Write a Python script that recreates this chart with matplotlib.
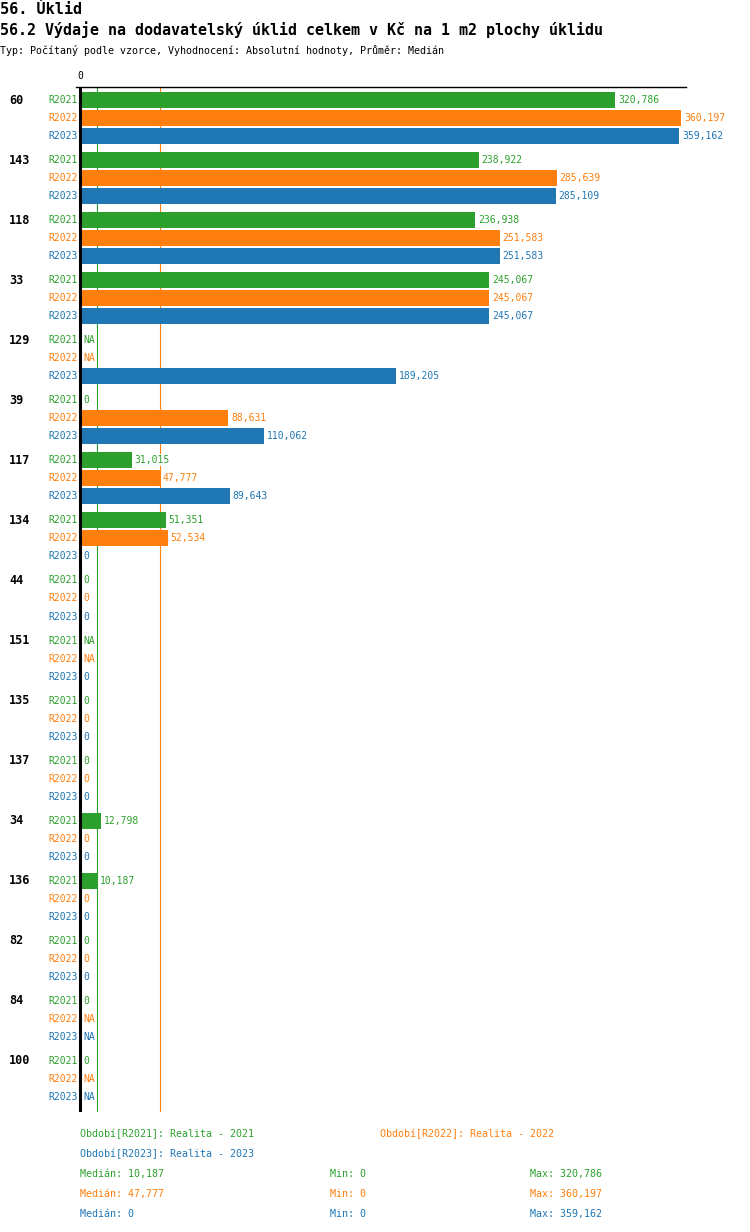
import matplotlib
matplotlib.use("Agg")
import matplotlib.pyplot as plt
import numpy as np

groups = ["60", "143", "118", "33", "129", "39", "117", "134", "44", "151",
          "135", "137", "34", "136", "82", "84", "100"]
series = ["R2021", "R2022", "R2023"]
NA = None
r2021 = [320786, 238922, 236938, 245067, NA, 0, 31015, 51351, 0, NA, 0, 0, 12798, 10187, 0, 0, 0]
r2022 = [360197, 285639, 251583, 245067, NA, 88631, 47777, 52534, 0, NA, 0, 0, 0, 0, 0, NA, NA]
r2023 = [359162, 285109, 251583, 245067, 189205, 110062, 89643, 0, 0, 0, 0, 0, 0, 0, 0, NA, NA]
values = [r2021, r2022, r2023]
colors = ["#2ca02c", "#ff7f0e", "#1f77b4"]
legend_texts = ["Období[R2021]: Realita - 2021", "Období[R2022]: Realita - 2022",
                "Období[R2023]: Realita - 2023"]
medians = [10187, 47777, 0]
mins = [0, 0, 0]
maxs = [320786, 360197, 359162]

W, H = 750, 1232
fig = plt.figure(figsize=(W / 100, H / 100), dpi=100)
plt.rcParams['font.family'] = ['DejaVu Sans Mono']

ax_left, ax_right, ax_top, ax_bottom = 76, 686, 87, 1112
ax = fig.add_axes([ax_left / W, 1 - ax_bottom / H, (ax_right - ax_left) / W, (ax_bottom - ax_top) / H])

zero_px = 80
units_per_px = 360197 / (681 - zero_px)
ax.set_xlim(-(zero_px - ax_left) * units_per_px, (ax_right - zero_px) * units_per_px)
ax.set_ylim(1011, -13)
for s in ["left", "right", "bottom"]:
    ax.spines[s].set_visible(False)
ax.spines["top"].set_linewidth(1)
ax.spines["top"].set_color("black")
ax.set_xticks([])
ax.set_yticks([])

def xfrac(px):
    return (px - ax_left) / (ax_right - ax_left)

from matplotlib.transforms import blended_transform_factory
tr = blended_transform_factory(ax.transAxes, ax.transData)

for j, (vals, c) in enumerate(zip(values, colors)):
    ypos = [i * 60 + j * 18 for i in range(len(groups))]
    for i, v in enumerate(vals):
        y = ypos[i]
        ax.text(xfrac(78), y, series[j], color=c, fontsize=7, ha="right", va="center",
                transform=tr, clip_on=False, zorder=5)
        if v is None:
            lbl, xe = "NA", 0
        else:
            lbl, xe = f"{v:,}", v
            if v > 0:
                ax.barh(y, v, height=16, color=c, zorder=3)
        ax.text(xe + 3 * units_per_px, y, lbl, color=c, fontsize=7, ha="left", va="center",
                zorder=4, bbox=dict(facecolor="white", edgecolor="none", pad=0.8))

for i, g in enumerate(groups):
    ax.text(xfrac(9), i * 60, g, fontsize=8.5, fontweight="bold", ha="left", va="center",
            transform=tr, clip_on=False)

for m, c in zip(medians, colors):
    ax.axvline(m, color=c, lw=0.8, zorder=1)
ax.axvline(0, color="black", lw=2.2, zorder=6)

ax.text(0, 1.006, "0", transform=blended_transform_factory(ax.transData, ax.transAxes),
        fontsize=7, ha="center", va="bottom")

def ftext(x, y, s, **kw):
    fig.text(x / W, 1 - y / H, s, **kw)

ftext(0, 9, "56. Úklid", fontsize=11, fontweight="bold", va="center")
ftext(0, 30, "56.2 Výdaje na dodavatelský úklid celkem v Kč na 1 m2 plochy úklidu",
      fontsize=10.8, fontweight="bold", va="center")
ftext(0, 50, "Typ: Počítaný podle vzorce, Vyhodnocení: Absolutní hodnoty, Průměr: Medián",
      fontsize=7.2, va="center")

ftext(80, 1134, legend_texts[0], color=colors[0], fontsize=7.2, va="center")
ftext(380, 1134, legend_texts[1], color=colors[1], fontsize=7.2, va="center")
ftext(80, 1154, legend_texts[2], color=colors[2], fontsize=7.2, va="center")
for k in range(3):
    y = 1174 + 20 * k
    ftext(80, y, f"Medián: {medians[k]:,}", color=colors[k], fontsize=7.2, va="center")
    ftext(330, y, f"Min: {mins[k]:,}", color=colors[k], fontsize=7.2, va="center")
    ftext(530, y, f"Max: {maxs[k]:,}", color=colors[k], fontsize=7.2, va="center")

fig.savefig("out.png", dpi=100)
